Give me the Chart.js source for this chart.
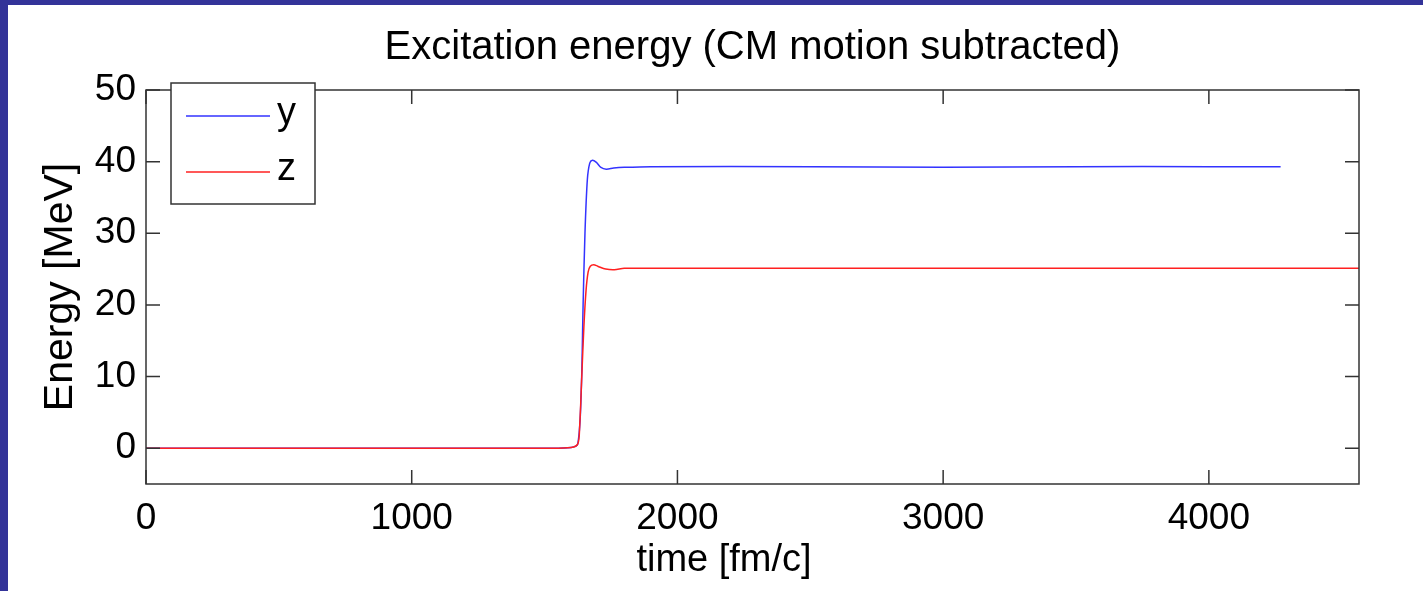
<!DOCTYPE html>
<html>
<head>
<meta charset="utf-8">
<script src="https://cdn.jsdelivr.net/npm/chart.js@4"></script>
<style>
  html, body { margin: 0; padding: 0; background: #fff; }
  #wrap { position: absolute; left: 0; top: 0; width: 1423px; height: 591px; }
  #barTop { position: absolute; left: 0; top: 0; width: 1423px; height: 5px; background: #333399; }
  #barLeft { position: absolute; left: 0; top: 0; width: 8px; height: 591px; background: #333399; }
</style>
</head>
<body>
<div id="wrap"><canvas id="c" width="1423" height="591"></canvas></div>
<div id="barTop"></div>
<div id="barLeft"></div>
<script>
// Datos
const timeY = [0, 500, 1000, 1500, 1600, 1625, 1638, 1645, 1652, 1661, 1670, 1680, 1695, 1712, 1732, 1760, 1800, 1900, 2500, 3000, 3500, 4000, 4270]
const energyY = [0, 0, 0, 0, 0.1, 0.6, 8, 20, 30, 37.5, 39.8, 40.2, 39.9, 39.2, 38.95, 39.1, 39.2, 39.3, 39.3, 39.2, 39.3, 39.3, 39.3]
const timeZ = [0, 500, 1000, 1500, 1600, 1625, 1632, 1640, 1648, 1656, 1664, 1672, 1685, 1700, 1730, 1763, 1800, 2000, 3000, 4000, 4570]
const energyZ = [0, 0, 0, 0, 0.1, 0.6, 3, 10, 17, 22, 24.6, 25.4, 25.6, 25.4, 25.0, 24.9, 25.1, 25.1, 25.1, 25.1, 25.1]
const xTicks = [0, 1000, 2000, 3000, 4000]
const yTicks = [0, 10, 20, 30, 40, 50]

const FONT = "Liberation Sans, Arial, sans-serif"

const toPoints = (xs, ys) => xs.map((x, i) => ({ x: x, y: ys[i] }))

// Marco estilo MATLAB, títulos y leyenda
const framePlugin = {
  id: "frame",
  afterDraw(chart) {
    const { ctx, chartArea: a, scales } = chart
    ctx.save()
    ctx.strokeStyle = "#333"
    ctx.lineWidth = 1.5
    ctx.strokeRect(a.left, a.top, a.right - a.left, a.bottom - a.top)
    ctx.beginPath()
    xTicks.forEach((t) => {
      const px = scales.x.getPixelForValue(t)
      ctx.moveTo(px, a.bottom); ctx.lineTo(px, a.bottom - 14)
      ctx.moveTo(px, a.top); ctx.lineTo(px, a.top + 14)
    })
    yTicks.forEach((t) => {
      const py = scales.y.getPixelForValue(t)
      ctx.moveTo(a.left, py); ctx.lineTo(a.left + 14, py)
      ctx.moveTo(a.right, py); ctx.lineTo(a.right - 14, py)
    })
    ctx.stroke()

    ctx.fillStyle = "#000"
    ctx.textAlign = "center"
    ctx.textBaseline = "middle"
    ctx.font = "40px " + FONT
    ctx.fillText("Excitation energy (CM motion subtracted)", (a.left + a.right) / 2, 48)
    ctx.font = "38px " + FONT
    ctx.fillText("time [fm/c]", 724, 561)

    // leyenda
    ctx.fillStyle = "#fff"
    ctx.fillRect(171, 83, 144, 121)
    ctx.strokeRect(171, 83, 144, 121)
    chart.data.datasets.forEach((ds, i) => {
      const ly = 116 + i * 56
      ctx.strokeStyle = ds.borderColor
      ctx.beginPath(); ctx.moveTo(186, ly); ctx.lineTo(270, ly); ctx.stroke()
      ctx.fillStyle = "#000"
      ctx.textAlign = "left"
      ctx.fillText(ds.label, 277, ly - 2)
    })
    ctx.restore()
  },
}

new Chart(document.getElementById("c"), {
  type: "scatter",
  data: {
    datasets: [
      { label: "y", data: toPoints(timeY, energyY), borderColor: "#3333ff", showLine: true, pointRadius: 0, borderWidth: 1.5, tension: 0.3, order: 2 },
      { label: "z", data: toPoints(timeZ, energyZ), borderColor: "#ff2020", showLine: true, pointRadius: 0, borderWidth: 1.5, tension: 0.3, order: 1 },
    ],
  },
  options: {
    responsive: false,
    animation: false,
    layout: { padding: { top: 90, right: 64, left: 0, bottom: 0 } },
    plugins: { legend: { display: false }, title: { display: false }, tooltip: { enabled: false } },
    scales: {
      x: {
        type: "linear", min: 0, max: 4565,
        afterBuildTicks: (s) => { s.ticks = xTicks.map((v) => ({ value: v })) },
        afterFit: (s) => { s.height = 107 },
        grid: { display: false }, border: { display: false },
        ticks: { color: "#000", font: { size: 37, family: FONT }, padding: 5, maxRotation: 0, callback: (v) => String(v) },
      },
      y: {
        min: -5, max: 50,
        afterBuildTicks: (s) => { s.ticks = yTicks.map((v) => ({ value: v })) },
        afterFit: (s) => { s.width = 146 },
        grid: { display: false }, border: { display: false },
        ticks: { color: "#000", font: { size: 37, family: FONT }, padding: 2, callback: (v) => String(v) },
        title: { display: true, text: "Energy [MeV]", color: "#000", font: { size: 41, family: FONT }, padding: { top: 36, bottom: 0 } },
      },
    },
  },
  plugins: [framePlugin],
})
</script>
</body>
</html>
